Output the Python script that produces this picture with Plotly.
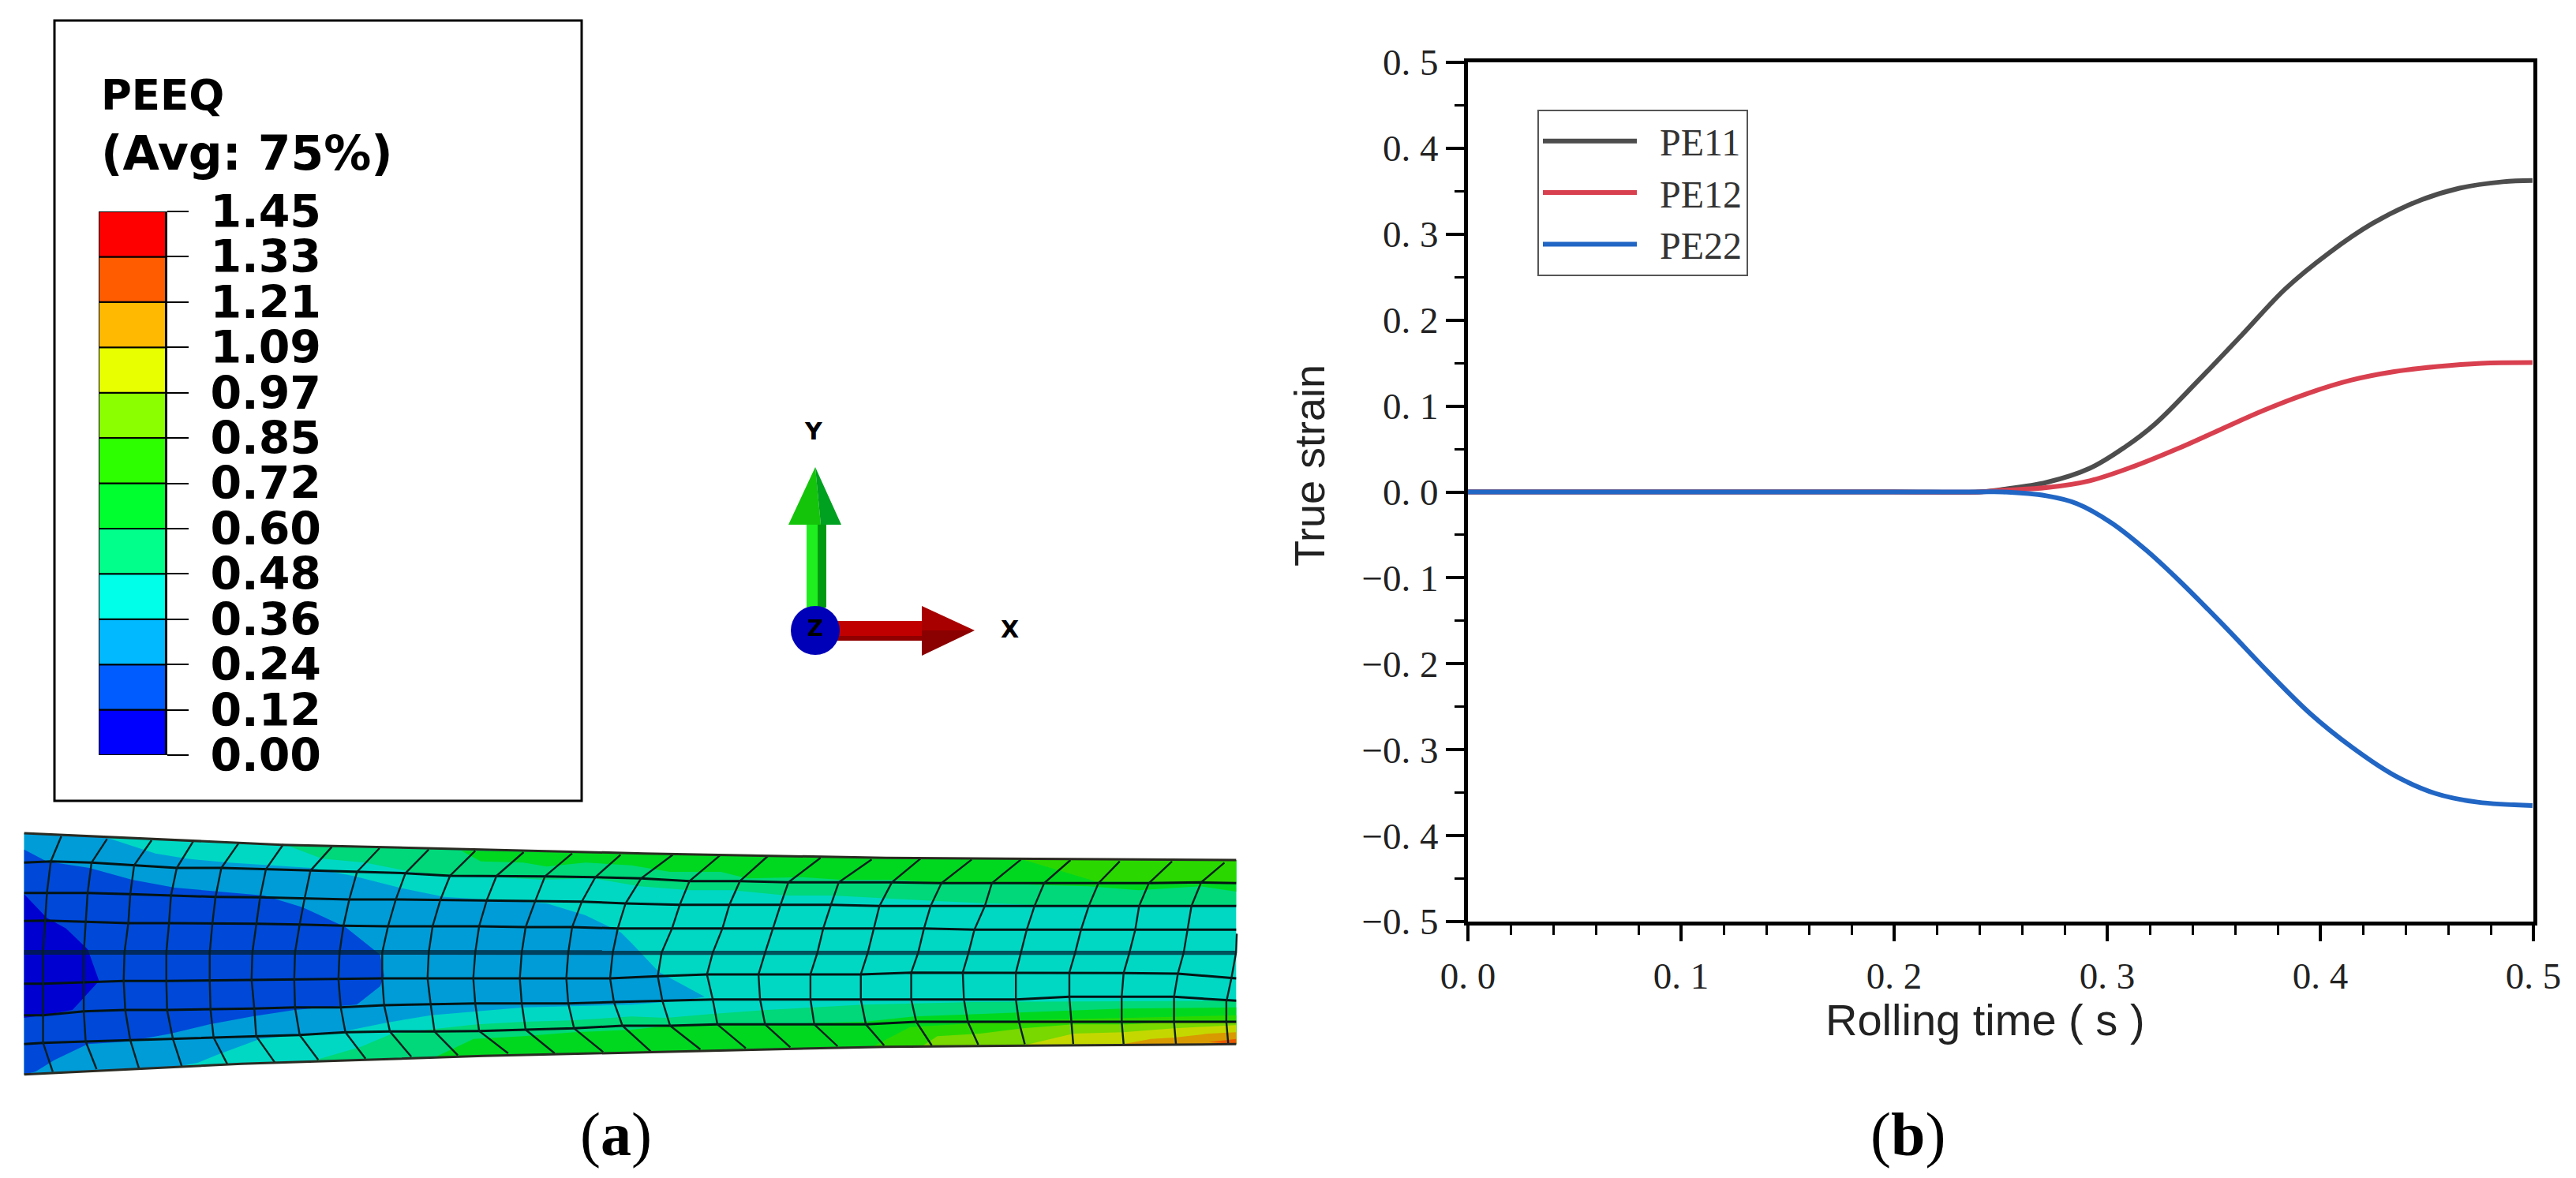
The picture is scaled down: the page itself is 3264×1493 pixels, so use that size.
import plotly.graph_objects as go

W, H = 3264, 1493

# ---------- panel (b) data ----------
t_pe11 = [0, 0.10, 0.20, 0.24, 0.251, 0.2714, 0.2918, 0.3082, 0.3224, 0.3429, 0.3633, 0.3837, 0.4041, 0.4245, 0.4449, 0.4653, 0.4857, 0.4996]
pe11 = [0, 0, 0, 0, 0.003, 0.011, 0.0275, 0.052, 0.079, 0.13, 0.183, 0.2366, 0.2782, 0.3125, 0.3375, 0.3535, 0.361, 0.3625]
t_pe12 = [0, 0.10, 0.20, 0.24, 0.251, 0.2714, 0.2918, 0.3122, 0.3327, 0.3531, 0.3735, 0.3939, 0.4143, 0.4347, 0.4551, 0.4755, 0.4996]
pe12 = [0, 0, 0, 0, 0.002, 0.005, 0.013, 0.0295, 0.05, 0.0726, 0.095, 0.1145, 0.13, 0.14, 0.146, 0.1497, 0.1505]
t_pe22 = [0, 0.10, 0.20, 0.24, 0.251, 0.2714, 0.2857, 0.302, 0.3184, 0.3341, 0.3559, 0.3755, 0.3952, 0.4148, 0.4345, 0.4542, 0.4738, 0.4996]
pe22 = [0, 0, 0, 0, 0, -0.0045, -0.0135, -0.036, -0.068, -0.104, -0.1585, -0.2095, -0.2578, -0.297, -0.3295, -0.351, -0.361, -0.365]
series_names = ["\u00a0\u00a0PE11", "\u00a0\u00a0PE12", "\u00a0\u00a0PE22"]
series_colors = ["#4d4d4d", "#d9404f", "#2166c4"]

x_ticks = [0.0, 0.1, 0.2, 0.3, 0.4, 0.5]
x_ticktext = ["0. 0", "0. 1", "0. 2", "0. 3", "0. 4", "0. 5"]
y_ticks = [-0.5, -0.4, -0.3, -0.2, -0.1, 0.0, 0.1, 0.2, 0.3, 0.4, 0.5]
y_ticktext = ["\u22120. 5", "\u22120. 4", "\u22120. 3", "\u22120. 2", "\u22120. 1", "0. 0", "0. 1", "0. 2", "0. 3", "0. 4", "0. 5"]

# ---------- panel (a) colour key ----------
key_labels = ["0.00", "0.12", "0.24", "0.36", "0.48", "0.60", "0.72", "0.85", "0.97", "1.09", "1.21", "1.33", "1.45"]
key_positions = [0, 1, 2, 3, 4, 5, 6, 7, 8, 9, 10, 11, 12]
key_band_base = [0, 1, 2, 3, 4, 5, 6, 7, 8, 9, 10, 11]
key_band_height = [1, 1, 1, 1, 1, 1, 1, 1, 1, 1, 1, 1]
key_colors = ["#0000ff", "#005cff", "#00b9ff", "#00ffe8", "#00ff8b", "#00ff2e",
              "#2eff00", "#8bff00", "#e8ff00", "#ffb900", "#ff5c00", "#ff0000"]

# ---------- panel (a) plate contour bands (plate axis units) ----------
plate_x = [30, 350, 800, 1100, 1535, 1535, 1100, 900, 600, 300, 30]
plate_y = [78, 122, 155, 172, 180, 880, 890, 905, 925, 955, 995]
bands = [
    ("#00d8c4", plate_x, plate_y),
    ("#009cd8", [30, 130, 193, 232, 284, 386, 438, 496, 552, 607, 679, 727, 771, 784, 818, 875, 847, 784, 650, 535, 477, 429, 371, 323, 270, 246, 222, 30],
                [78, 92, 155, 175, 190, 210, 240, 285, 320, 330, 345, 390, 455, 495, 605, 700, 715, 730, 740, 770, 800, 830, 845, 860, 920, 950, 965, 995]),
    ("#0048d8", [30, 58, 111, 164, 217, 270, 328, 376, 429, 472, 477, 472, 443, 366, 313, 260, 212, 159, 109, 68, 44, 30],
                [140, 185, 210, 255, 285, 300, 315, 360, 435, 540, 620, 660, 730, 750, 775, 805, 840, 870, 880, 940, 985, 995]),
    ("#0000d0", [30, 58, 82, 109, 123, 90, 54, 30], [310, 400, 440, 520, 640, 750, 770, 780]),
    ("#00d87a", [357, 800, 1100, 1535, 1535, 1362, 1280, 1227, 1159, 1102, 1034, 977, 909, 856, 794, 737, 674, 617, 559, 511, 453, 400],
                [125, 155, 172, 180, 355, 355, 350, 345, 335, 325, 315, 315, 295, 295, 280, 250, 255, 245, 240, 225, 190, 175]),
    ("#00d820", [573, 800, 1100, 1535, 1535, 1491, 1414, 1352, 1294, 1232, 1169, 1111, 1044, 996, 928, 895, 832, 784, 727, 679, 650, 597],
                [145, 155, 172, 180, 300, 280, 295, 280, 275, 268, 268, 255, 255, 245, 250, 225, 225, 200, 190, 205, 190, 185]),
    ("#2ad800", [1268, 1535, 1535, 1361], [176, 180, 265, 262]),
    ("#00d87a", [390, 448, 487, 592, 650, 708, 784, 827, 885, 952, 1010, 1073, 1208, 1535, 1535, 1100, 900, 600],
                [942, 890, 840, 805, 795, 790, 775, 780, 765, 750, 740, 730, 720, 715, 880, 890, 905, 925]),
    ("#00d820", [540, 588, 650, 713, 784, 832, 948, 1073, 1135, 1265, 1395, 1535, 1535, 1100, 900, 700],
                [930, 860, 850, 835, 825, 810, 805, 795, 775, 760, 745, 740, 880, 890, 905, 918]),
    ("#2ad800", [1082, 1130, 1265, 1395, 1535, 1535], [892, 815, 790, 780, 770, 880]),
    ("#78d800", [1145, 1164, 1217, 1270, 1333, 1400, 1458, 1535, 1535], [888, 850, 840, 820, 805, 805, 795, 795, 880]),
    ("#c4d800", [1275, 1333, 1395, 1458, 1520, 1535, 1535], [882, 840, 835, 820, 810, 808, 880]),
    ("#d89a00", [1395, 1429, 1458, 1501, 1535, 1535], [880, 860, 855, 840, 835, 880]),
    ("#e85800", [1501, 1535, 1535], [872, 860, 880]),
]

left_x = [
    [97, 215, 330, 437, 555, 670, 795, 918, 1045, 1165, 1290, 1415, 1540],
    [70, 175, 285, 395, 510, 625, 740, 860, 985, 1100, 1220, 1345, 1475],
    [60, 165, 275, 380, 495, 610, 725, 840, 960, 1075, 1195, 1320, 1440],
    [55, 160, 270, 375, 487, 600, 712, 825, 940, 1055, 1175, 1295, 1415],
    [50, 155, 260, 368, 480, 590, 700, 815, 925, 1045, 1165, 1285, 1405],
    [50, 155, 258, 368, 480, 588, 698, 812, 925, 1042, 1160, 1280, 1400],
    [50, 155, 262, 370, 482, 595, 700, 818, 930, 1050, 1165, 1285, 1405],
    [50, 160, 275, 385, 490, 600, 712, 830, 945, 1060, 1175, 1295, 1420],
    [75, 188, 297, 408, 525, 648, 760, 882, 1000, 1120, 1250, 1370, 1495],
]
left_y = [
    [30, 40, 45, 50, 55, 60, 70, 75, 80, 85, 90, 95, 100],
    [125, 130, 140, 150, 150, 155, 160, 165, 170, 180, 180, 182, 185],
    [245, 245, 250, 255, 260, 262, 265, 270, 270, 272, 272, 275, 278],
    [350, 355, 360, 360, 360, 362, 365, 370, 372, 372, 372, 375, 375],
    [472, 472, 472, 472, 472, 472, 472, 472, 472, 472, 472, 472, 472],
    [590, 585, 580, 580, 578, 575, 575, 572, 570, 570, 570, 570, 570],
    [710, 695, 690, 690, 688, 685, 680, 680, 672, 668, 665, 665, 665],
    [815, 810, 805, 800, 795, 790, 785, 775, 772, 772, 770, 765, 760],
    [925, 915, 910, 905, 895, 890, 880, 875, 868, 862, 855, 855, 850],
]
right_x = [
    [107, 228, 352, 488, 620, 748, 878, 1005, 1133, 1260, 1395, 1530],
    [25, 150, 280, 405, 535, 672, 800, 930, 1065, 1205, 1335, 1470],
    [-15, 125, 253, 385, 515, 640, 772, 912, 1040, 1180, 1310, 1445],
    [-35, 105, 235, 365, 495, 625, 755, 885, 1020, 1160, 1300, 1435],
    [-48, 78, 210, 345, 480, 610, 740, 870, 1005, 1145, 1285, 1425],
    [-55, 68, 195, 328, 462, 592, 722, 855, 992, 1130, 1270, 1410],
    [-45, 80, 210, 332, 462, 592, 722, 858, 992, 1130, 1265, 1400],
    [-23, 100, 222, 345, 472, 605, 735, 868, 1000, 1135, 1265, 1400],
    [50, 178, 295, 410, 532, 652, 775, 895, 1015, 1140, 1270, 1405],
]
right_y = [
    [100, 103, 105, 112, 118, 112, 118, 118, 120, 125, 125, 130],
    [190, 200, 200, 205, 205, 205, 208, 208, 208, 208, 208, 205],
    [285, 290, 290, 290, 290, 295, 295, 295, 295, 295, 295, 295],
    [380, 380, 380, 380, 380, 380, 380, 385, 385, 385, 385, 385],
    [472, 472, 472, 472, 472, 472, 472, 472, 472, 472, 472, 472],
    [570, 562, 555, 555, 555, 555, 548, 548, 548, 548, 550, 552],
    [660, 655, 650, 650, 650, 650, 650, 650, 650, 640, 640, 640],
    [750, 750, 745, 745, 745, 745, 735, 735, 735, 735, 735, 735],
    [848, 840, 835, 832, 828, 825, 825, 822, 820, 820, 820, 820],
]
row_left_y = [130, 245, 352, 472, 590, 710, 820]
row_right_y = [208, 295, 385, 472, 570, 655, 735]
last_col_crop_x = [1562, 1560, 1548, 1535, 1535, 1540]
last_col_crop_y = [400, 472, 570, 660, 735, 820]

mesh_center_x = [30, 1535]
mesh_center_y = [531, 532]
edge_top_x = [30, 350, 800, 1100, 1535]
edge_top_y = [78, 122, 155, 172, 180]
edge_bot_x = [30, 300, 600, 900, 1100, 1535]
edge_bot_y = [995, 955, 925, 905, 890, 880]

# ---------- triad glyph (figure pixel axis) ----------
triad_parts = [
    ("#1fef1f", [1022, 1036, 1036, 1022], [665, 665, 770, 770]),
    ("#009a10", [1036, 1047, 1047, 1036], [665, 665, 770, 770]),
    ("#14c40a", [999, 1033, 1040, 1040], [665, 592, 665, 665]),
    ("#00a020", [1033, 1066, 1040], [592, 665, 665]),
    ("#c00000", [1060, 1168, 1168, 1060], [787, 787, 806, 806]),
    ("#900000", [1060, 1168, 1168, 1060], [806, 806, 812, 812]),
    ("#a80000", [1168, 1235, 1168], [768, 799, 799]),
    ("#8b0000", [1168, 1235, 1168], [799, 799, 831]),
]
triad_center_x = [1033]
triad_center_y = [799]


def left_u(v):
    return 29.4 + 0.4813 * v


def right_u(v):
    return 784 + 0.4813 * v


grid_u = [[left_u(a) for a in lx] + [right_u(a) for a in rx] for lx, rx in zip(left_x, right_x)]
grid_v = [[a + 60 for a in ly] + [a + 60 for a in ry] for ly, ry in zip(left_y, right_y)]

fig = go.Figure()

for col, xs, ys in triad_parts:
    fig.add_trace(go.Scatter(x=xs, y=ys, xaxis="x2", yaxis="y2", mode="lines", fill="toself",
                             fillcolor=col, line=dict(width=0, color=col), showlegend=False, hoverinfo="skip"))
fig.add_trace(go.Scatter(x=triad_center_x, y=triad_center_y, xaxis="x2", yaxis="y2", mode="markers+text",
                         marker=dict(size=62, color="#0000b8"), text=["Z"], textposition="middle center",
                         textfont=dict(family="DejaVu Sans", size=28, color="black", weight=700),
                         showlegend=False, hoverinfo="skip"))

fig.add_trace(go.Bar(x=[0] * 12, y=key_band_height, base=key_band_base, width=1, xaxis="x3", yaxis="y3",
                     marker=dict(color=key_colors, line=dict(color="black", width=2)),
                     showlegend=False, hoverinfo="skip"))

for col, xs, ys in bands:
    fig.add_trace(go.Scatter(x=xs, y=ys, xaxis="x4", yaxis="y4", mode="lines", fill="toself", fillcolor=col,
                             line=dict(width=0, color=col), showlegend=False, hoverinfo="skip"))

# rows along the plate: stations 1..7 of the grid, except the centre band (station 4)
for r in [1, 2, 3, 5, 6, 7]:
    fig.add_trace(go.Scatter(x=[30] + grid_u[r] + [1535],
                             y=[row_left_y[r - 1]] and [row_left_y[r - 1] + 60] + grid_v[r] + [row_right_y[r - 1] + 60],
                             xaxis="x4", yaxis="y4", mode="lines", line=dict(color="#041414", width=3),
                             showlegend=False, hoverinfo="skip"))
fig.add_trace(go.Scatter(x=mesh_center_x, y=mesh_center_y, xaxis="x4", yaxis="y4", mode="lines",
                         line=dict(color="rgba(0,30,50,0.72)", width=6), showlegend=False, hoverinfo="skip"))
# columns across the plate
for c in range(len(grid_u[0])):
    fig.add_trace(go.Scatter(x=[grid_u[r][c] for r in range(9)], y=[grid_v[r][c] for r in range(9)],
                             xaxis="x4", yaxis="y4", mode="lines", line=dict(color="#062020", width=2.4),
                             showlegend=False, hoverinfo="skip"))
fig.add_trace(go.Scatter(x=[right_u(a) for a in last_col_crop_x], y=[a + 60 for a in last_col_crop_y],
                         xaxis="x4", yaxis="y4", mode="lines", line=dict(color="#062020", width=2.4),
                         showlegend=False, hoverinfo="skip"))
for xs, ys in [(edge_top_x, edge_top_y), (edge_bot_x, edge_bot_y)]:
    fig.add_trace(go.Scatter(x=xs, y=ys, xaxis="x4", yaxis="y4", mode="lines",
                             line=dict(color="#2a2a22", width=3), showlegend=False, hoverinfo="skip"))

for name, col, xs, ys in zip(series_names, series_colors, [t_pe11, t_pe12, t_pe22], [pe11, pe12, pe22]):
    fig.add_trace(go.Scatter(x=xs, y=ys, name=name, mode="lines",
                             line=dict(color=col, width=6, shape="spline", smoothing=1.0)))


def dom_x(a, b):
    return [a / W, b / W]


def dom_y(top, bottom):
    return [1 - bottom / H, 1 - top / H]


serif = "Liberation Serif"
tick_col = "#222222"
axis_common = dict(showgrid=False, zeroline=False, showline=True, linecolor="black", linewidth=5, mirror=True,
                   ticks="outside", tickwidth=4, tickcolor="black", automargin=False,
                   tickfont=dict(family=serif, size=47, color=tick_col))

fig.update_layout(
    template="none",
    width=W, height=H, autosize=False,
    margin=dict(l=0, r=0, t=0, b=0, pad=0),
    paper_bgcolor="white", plot_bgcolor="rgba(0,0,0,0)",
    showlegend=True,
    legend=dict(x=1948 / W, y=1 - 139 / H, xanchor="left", yanchor="top", bgcolor="white",
                bordercolor="#555555", borderwidth=2, itemwidth=119,
                font=dict(family=serif, size=48, color="#333333"), tracegroupgap=0),
    xaxis=dict(domain=dom_x(1860, 3210), range=[0, 0.5], tickvals=x_ticks, ticktext=x_ticktext, ticklen=20,
               minor=dict(ticks="outside", dtick=0.02, ticklen=12, tickwidth=3, tickcolor="black"),
               ticklabelstandoff=4, **axis_common),
    yaxis=dict(domain=dom_y(79, 1168), range=[-0.5, 0.5], tickvals=y_ticks, ticktext=y_ticktext, ticklen=23,
               minor=dict(ticks="outside", dtick=0.05, ticklen=12, tickwidth=3, tickcolor="black"),
               ticklabelstandoff=0, **axis_common),
    xaxis2=dict(domain=[0, 1], range=[0, W], visible=False, anchor="y2", automargin=False),
    yaxis2=dict(domain=[0, 1], range=[H, 0], visible=False, anchor="x2", automargin=False),
    xaxis3=dict(domain=dom_x(125, 210), range=[-0.5, 0.5], visible=False, anchor="y3", automargin=False),
    yaxis3=dict(domain=dom_y(268, 957), range=[0, 12], anchor="x3", side="right", tickvals=key_positions,
                ticktext=key_labels, ticks="outside", ticklen=27, tickwidth=2, tickcolor="black",
                showgrid=False, zeroline=False, showline=True, linecolor="black", linewidth=2,
                ticklabelstandoff=16, automargin=False,
                tickfont=dict(family="DejaVu Sans", size=57, color="black", weight=700)),
    xaxis4=dict(domain=dom_x(0, 1600 / 0.98), range=[0, 1600], visible=False, anchor="y4", automargin=False),
    yaxis4=dict(domain=dom_y(1030, 1490), range=[1380, 0], visible=False, anchor="x4", automargin=False),
    shapes=[dict(type="rect", xref="paper", yref="paper", x0=69 / W, x1=737 / W, y0=1 - 26 / H, y1=1 - 1015 / H,
                 line=dict(color="black", width=3), fillcolor="rgba(0,0,0,0)")],
)


def note(x, y, text, size, family, color="black", xanchor="center", weight=None, angle=0):
    font = dict(family=family, size=size, color=color)
    if weight:
        font["weight"] = weight
    fig.add_annotation(xref="paper", yref="paper", x=x / W, y=1 - y / H, text=text, showarrow=False,
                       xanchor=xanchor, yanchor="middle", font=font, textangle=angle)


note(126, 120, "PEEQ", 53, "DejaVu Sans", xanchor="left", weight=700)
note(126, 194, "(Avg: 75%)", 60, "DejaVu Sans", xanchor="left", weight=700)
note(1031, 546, "Y", 30, "DejaVu Sans", weight=700)
note(1279, 798, "X", 30, "DejaVu Sans", weight=700)
note(1659, 590, "True strain", 54, "Liberation Sans", color="#222222", angle=-90)
note(2515, 1292, "Rolling time ( s )", 56, "Liberation Sans", color="#222222")
note(780, 1437, "(<b>a</b>)", 78, serif)
note(2417, 1437, "(<b>b</b>)", 78, serif)

fig.write_html("out.html", post_script="document.body.style.margin='0';", config={"displayModeBar": False})
